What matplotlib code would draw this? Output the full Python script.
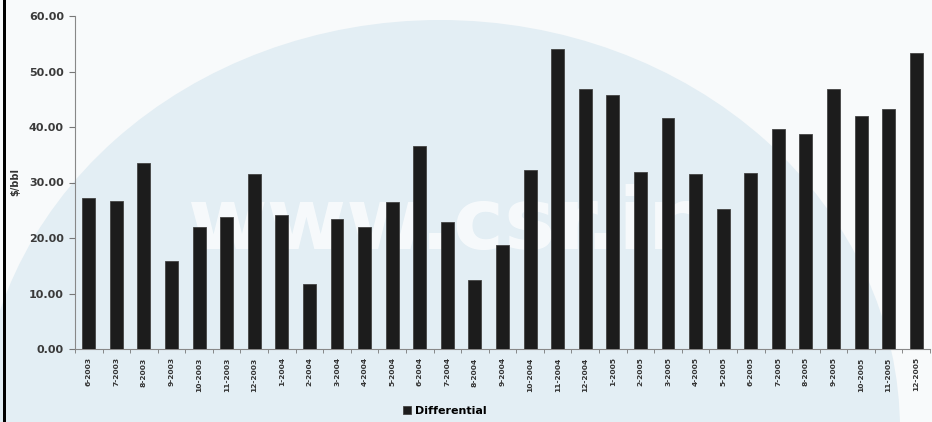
import numpy as np
import matplotlib
matplotlib.use('Agg')
from matplotlib import pyplot as plt
from matplotlib.patches import Ellipse, Rectangle

months = ['6-2003', '7-2003', '8-2003', '9-2003', '10-2003', '11-2003', '12-2003',
          '1-2004', '2-2004', '3-2004', '4-2004', '5-2004', '6-2004', '7-2004',
          '8-2004', '9-2004', '10-2004', '11-2004', '12-2004',
          '1-2005', '2-2005', '3-2005', '4-2005', '5-2005', '6-2005', '7-2005',
          '8-2005', '9-2005', '10-2005', '11-2005', '12-2005']
differential = [27.2, 26.7, 33.6, 15.9, 22.0, 23.8, 31.5,
                24.1, 11.8, 23.5, 22.0, 26.4, 36.6, 22.9,
                12.4, 18.8, 32.2, 54.0, 46.9,
                45.8, 31.9, 41.6, 31.5, 25.2, 31.8, 39.6,
                38.7, 46.9, 41.9, 43.2, 53.3]
yticks = [0, 10, 20, 30, 40, 50, 60]

W, H = 932, 422
fig = plt.figure(figsize=(W / 100, H / 100), dpi=100)
fig.patch.set_facecolor('#f8fafb')

# background: pale blue ellipse, watermark and black left border
bg = fig.add_axes([0, 0, 1, 1], zorder=0)
bg.set_xlim(0, W); bg.set_ylim(H, 0); bg.axis('off')
bg.add_patch(Ellipse((440, 430), 920, 820, facecolor='#e3eef4', edgecolor='none'))
bg.add_patch(Rectangle((3, 0), 3, H, facecolor='black', edgecolor='none'))
bg.text(440, 226, 'www.csr.ir', ha='center', va='center', fontsize=62,
        fontweight='bold', color='white', alpha=0.7)

ax = fig.add_axes([75 / W, 1 - 349 / H, 855 / W, 333 / H], zorder=1)
ax.set_facecolor('none')
x = np.arange(len(months))
ax.bar(x, differential, width=0.47, color='#1c1c1c', edgecolor='#444444',
       linewidth=0.6, label='Differential', zorder=3)

ax.set_xlim(-0.5, len(months) - 0.5)
ax.set_ylim(0, 60)
ax.set_yticks(yticks)
ax.set_yticklabels(['%.2f' % v for v in yticks], fontsize=8, fontweight='bold',
                   color='#3a3a3a')
ax.set_xticks(x)
ax.set_xticklabels(months, rotation=90, fontsize=5.4, fontweight='bold',
                   color='#333333')
ax.set_xticks(np.arange(-0.5, len(months)), minor=True)
ax.tick_params(axis='x', which='major', length=0, pad=6)
ax.tick_params(axis='x', which='minor', length=3, color='#777777')
ax.tick_params(axis='y', length=4, color='#777777', pad=4)

for s in ['top', 'right']:
    ax.spines[s].set_visible(False)
for s in ['left', 'bottom']:
    ax.spines[s].set_color('#888888')
    ax.spines[s].set_linewidth(0.8)

ax.set_ylabel('$/bbl', fontsize=7, fontweight='bold', color='#333333')
ax.yaxis.set_label_coords(-0.064, 0.5)

fig.legend(loc='center', bbox_to_anchor=(445 / W, 1 - 411 / H), frameon=False,
           prop={'size': 8, 'weight': 'bold'}, handlelength=0.7, handleheight=0.7,
           handletextpad=0.4)

plt.savefig('out.png', dpi=100, facecolor=fig.get_facecolor())
